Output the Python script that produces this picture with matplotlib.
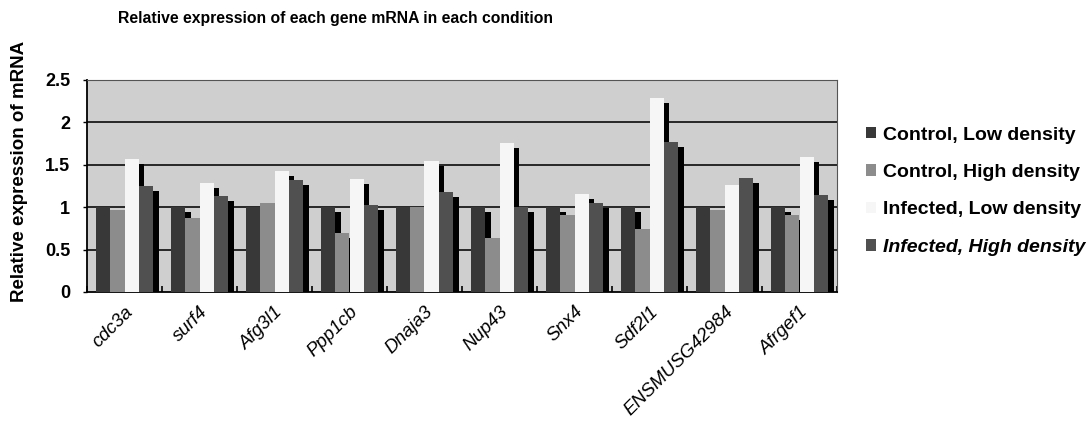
import numpy as np
import matplotlib
matplotlib.use("Agg")
import matplotlib.pyplot as plt
import matplotlib.patheffects as pe

genes = ["cdc3a", "surf4", "Afg3l1", "Ppp1cb", "Dnaja3", "Nup43", "Snx4",
         "Sdf2l1", "ENSMUSG42984", "Afrgef1"]
series_names = ["Control, Low density", "Control, High density",
                "Infected, Low density", "Infected, High density"]
control_low = [1.00, 1.00, 1.00, 1.00, 1.00, 1.00, 1.00, 1.00, 1.00, 1.00]
control_high = [0.97, 0.87, 1.05, 0.70, 1.00, 0.64, 0.91, 0.74, 0.97, 0.91]
infected_low = [1.57, 1.29, 1.43, 1.33, 1.54, 1.76, 1.16, 2.29, 1.26, 1.59]
infected_high = [1.25, 1.13, 1.32, 1.03, 1.18, 1.00, 1.05, 1.77, 1.35, 1.14]
yticks = [0, 0.5, 1, 1.5, 2, 2.5]
ytick_labels = ["0", "0.5", "1", "1.5", "2", "2.5"]

colors = ["#383838", "#8c8c8c", "#f6f6f6", "#505050"]
font = "Liberation Sans"

fig = plt.figure(figsize=(10.9, 4.28), dpi=100)
ax = fig.add_axes([87 / 1090, 136 / 428, 750 / 1090, 212 / 428])
ax.set_facecolor("#cfcfcf")

x = np.arange(len(genes))
width = 0.187
values = [control_low, control_high, infected_low, infected_high]
shadow = [pe.SimplePatchShadow(offset=(4.3, -3.6), shadow_rgbFace="black", alpha=1.0),
          pe.Normal()]
bars = []
for i, (vals, c, name) in enumerate(zip(values, colors, series_names)):
    b = ax.bar(x + (i - 1.5) * width, vals, width, color=c, label=name,
               linewidth=0, zorder=3)
    for p in b:
        p.set_path_effects(shadow)
    bars.append(b)

ax.set_xlim(-0.5, len(genes) - 0.5)
ax.set_ylim(0, 2.5)
for yv in yticks[1:-1]:
    ax.axhline(yv, color="#1a1a1a", lw=1.3, zorder=1)

ax.set_yticks(yticks)
ax.set_yticklabels(ytick_labels, fontfamily=font, fontsize=13, fontweight="bold")
ax.tick_params(axis="y", length=3, width=1, pad=9)
ax.set_xticks(x)
ax.set_xticklabels(genes, rotation=45, ha="right", rotation_mode="anchor",
                   fontfamily=font, fontsize=13.5, fontstyle="italic")
ax.tick_params(axis="x", length=0, pad=8)
ax.set_xticks(np.arange(len(genes) + 1) - 0.5, minor=True)
ax.tick_params(axis="x", which="minor", direction="in", length=4, width=1.2)

for s in ["left", "bottom"]:
    ax.spines[s].set_color("black")
    ax.spines[s].set_linewidth(1.3)
for s in ["top", "right"]:
    ax.spines[s].set_color("#555555")
    ax.spines[s].set_linewidth(0.8)

fig.text(335 / 1090, 1 - 18 / 428, "Relative expression of each gene mRNA in each condition",
         ha="center", va="center", fontfamily=font, fontsize=11.3, fontweight="bold")
fig.text(20 / 1090, 1 - 171 / 428, "Relative expression of mRNA", rotation=90,
         ha="center", va="center", fontfamily=font, fontsize=13.5, fontweight="bold")

leg = fig.legend(handles=[b for b in bars], labels=series_names,
                 loc="upper left", bbox_to_anchor=(848 / 1090, 1 - 109 / 428),
                 frameon=False, handlelength=0.55, handleheight=0.55,
                 handletextpad=0.35, labelspacing=1.05,
                 prop={"family": font, "size": 14, "weight": "bold"})
for p in leg.get_patches():
    p.set_path_effects([])
leg.get_texts()[3].set_fontstyle("italic")

fig.savefig("out.png", dpi=100)
